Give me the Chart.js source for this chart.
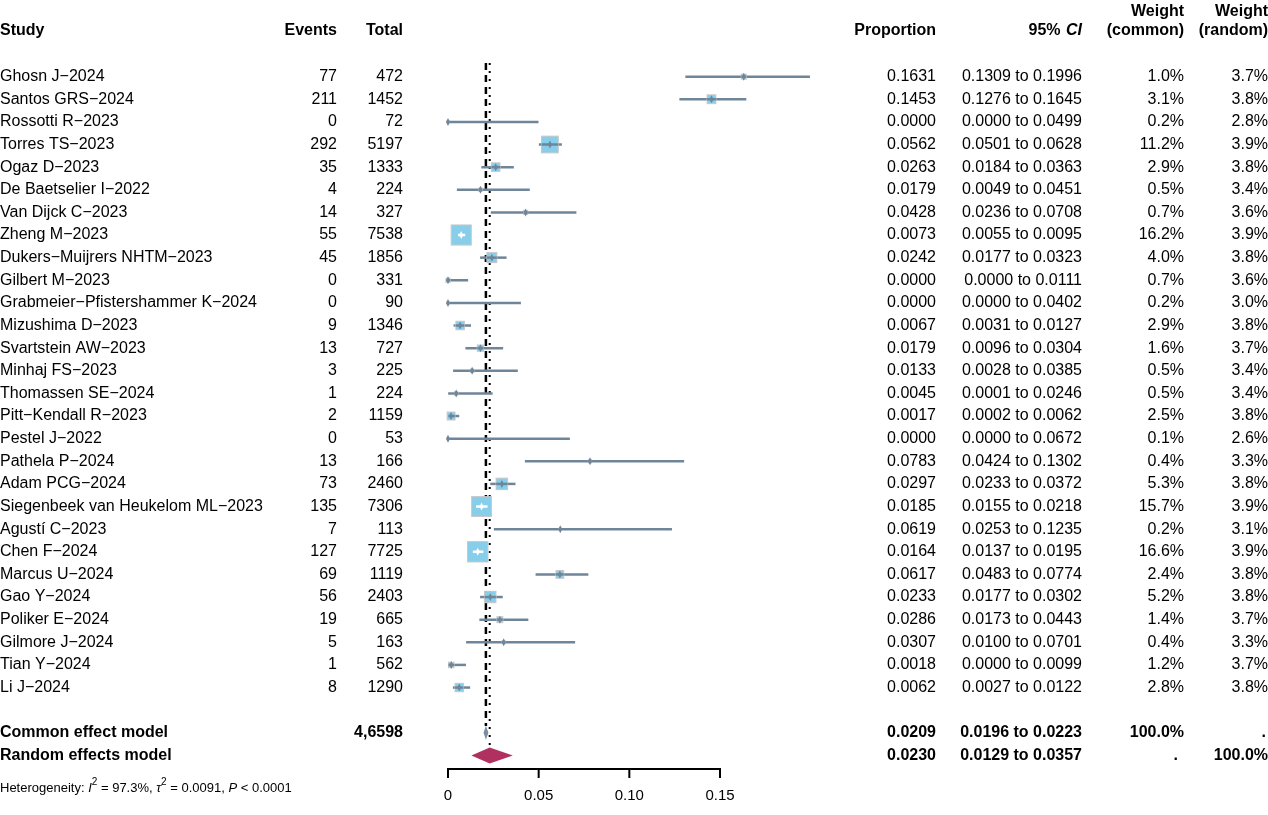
<!DOCTYPE html>
<html><head><meta charset="utf-8">
<script src="https://cdn.jsdelivr.net/npm/chart.js@4.4.1/dist/chart.umd.min.js"></script>
<style>html,body{margin:0;background:#fff}#c{display:block}</style>
</head><body>
<div style="width:1268px;height:815px"><canvas id="c"></canvas></div>
<script>
var studies = ['Ghosn J\u22122024','Santos GRS\u22122024','Rossotti R\u22122023','Torres TS\u22122023','Ogaz D\u22122023','De Baetselier I\u22122022','Van Dijck C\u22122023','Zheng M\u22122023','Dukers\u2212Muijrers NHTM\u22122023','Gilbert M\u22122023','Grabmeier\u2212Pfistershammer K\u22122024','Mizushima D\u22122023','Svartstein AW\u22122023','Minhaj FS\u22122023','Thomassen SE\u22122024','Pitt\u2212Kendall R\u22122023','Pestel J\u22122022','Pathela P\u22122024','Adam PCG\u22122024','Siegenbeek van Heukelom ML\u22122023','Agust\u00ed C\u22122023','Chen F\u22122024','Marcus U\u22122024','Gao Y\u22122024','Poliker E\u22122024','Gilmore J\u22122024','Tian Y\u22122024','Li J\u22122024'];
var events = [77,211,0,292,35,4,14,55,45,0,0,9,13,3,1,2,0,13,73,135,7,127,69,56,19,5,1,8];
var totals = [472,1452,72,5197,1333,224,327,7538,1856,331,90,1346,727,225,224,1159,53,166,2460,7306,113,7725,1119,2403,665,163,562,1290];
var props = [0.1631,0.1453,0,0.0562,0.0263,0.0179,0.0428,0.0073,0.0242,0,0,0.0067,0.0179,0.0133,0.0045,0.0017,0,0.0783,0.0297,0.0185,0.0619,0.0164,0.0617,0.0233,0.0286,0.0307,0.0018,0.0062];
var lower = [0.1309,0.1276,0,0.0501,0.0184,0.0049,0.0236,0.0055,0.0177,0,0,0.0031,0.0096,0.0028,0.0001,0.0002,0,0.0424,0.0233,0.0155,0.0253,0.0137,0.0483,0.0177,0.0173,0.0100,0,0.0027];
var upper = [0.1996,0.1645,0.0499,0.0628,0.0363,0.0451,0.0708,0.0095,0.0323,0.0111,0.0402,0.0127,0.0304,0.0385,0.0246,0.0062,0.0672,0.1302,0.0372,0.0218,0.1235,0.0195,0.0774,0.0302,0.0443,0.0701,0.0099,0.0122];
var wCommon = [1.0,3.1,0.2,11.2,2.9,0.5,0.7,16.2,4.0,0.7,0.2,2.9,1.6,0.5,0.5,2.5,0.1,0.4,5.3,15.7,0.2,16.6,2.4,5.2,1.4,0.4,1.2,2.8];
var wRandom = [3.7,3.8,2.8,3.9,3.8,3.4,3.6,3.9,3.8,3.6,3.0,3.8,3.7,3.4,3.4,3.8,2.6,3.3,3.8,3.9,3.1,3.9,3.8,3.8,3.7,3.3,3.7,3.8];
var common = {est: 0.0209, lo: 0.0196, hi: 0.0223};
var random = {est: 0.0230, lo: 0.0129, hi: 0.0357};
var xTicks = [0, 0.05, 0.10, 0.15];
var xTickLabels = ['0', '0.05', '0.10', '0.15'];

var COMMON_ROW = 29, RANDOM_ROW = 30;
var FONT = 'Arial, "Liberation Sans", sans-serif';
var lineCol = '#6f8599';

function fmt(v) { return v.toFixed(4); }

var forestPlugin = {
    id: 'forest',
    afterDatasetsDraw: function (chart) {
        var ctx = chart.ctx, xs = chart.scales.x, ys = chart.scales.y;
        var X = function (v) { return xs.getPixelForValue(v); };
        var Y = function (v) { return ys.getPixelForValue(v); };
        ctx.save();
        ctx.textBaseline = 'middle';

        // axis tick marks
        ctx.strokeStyle = '#000'; ctx.lineWidth = 2;
        xTicks.forEach(function (v) {
            ctx.beginPath(); ctx.moveTo(X(v), chart.chartArea.bottom); ctx.lineTo(X(v), chart.chartArea.bottom + 9); ctx.stroke();
        });

        // reference lines
        ctx.lineWidth = 2.5;
        ctx.setLineDash([7, 5]);
        ctx.beginPath(); ctx.moveTo(X(common.est), Y(-0.6)); ctx.lineTo(X(common.est), Y(COMMON_ROW - 0.3)); ctx.stroke();
        ctx.lineWidth = 2;
        ctx.setLineDash([2, 6]);
        ctx.beginPath(); ctx.moveTo(X(random.est), Y(-0.6)); ctx.lineTo(X(random.est), Y(RANDOM_ROW - 0.4)); ctx.stroke();
        ctx.setLineDash([]);

        // studies
        for (var i = 0; i < studies.length; i++) {
            var y = Y(i), xl = X(lower[i]), xh = X(upper[i]), xp = X(props[i]);
            ctx.strokeStyle = lineCol; ctx.lineWidth = 2.5;
            ctx.beginPath(); ctx.moveTo(xl, y); ctx.lineTo(xh, y); ctx.stroke();
            var s = 5 * Math.sqrt(wCommon[i]);
            ctx.fillStyle = '#87ceeb';
            ctx.fillRect(xp - s / 2, y - s / 2, s, s);
            ctx.strokeStyle = '#c8c8c8'; ctx.lineWidth = 1;
            ctx.strokeRect(xp - s / 2, y - s / 2, s, s);
            var inside = xl >= xp - s / 2 && xh <= xp + s / 2;
            ctx.strokeStyle = inside ? '#fff' : lineCol; ctx.lineWidth = 2.5;
            ctx.beginPath(); ctx.moveTo(Math.max(xl, xp - s / 2), y); ctx.lineTo(Math.min(xh, xp + s / 2), y); ctx.stroke();
            ctx.fillStyle = inside ? '#fff' : lineCol;
            ctx.beginPath(); ctx.moveTo(xp, y - 4); ctx.lineTo(xp + 2, y); ctx.lineTo(xp, y + 4); ctx.lineTo(xp - 2, y); ctx.closePath(); ctx.fill();
        }

        // diamonds
        function diamond(m, row, col, h) {
            var y = Y(row);
            ctx.fillStyle = col;
            ctx.beginPath();
            ctx.moveTo(X(m.lo), y); ctx.lineTo(X(m.est), y - h); ctx.lineTo(X(m.hi), y); ctx.lineTo(X(m.est), y + h);
            ctx.closePath(); ctx.fill();
        }
        diamond(common, COMMON_ROW, '#7b8fa1', 7);
        diamond(random, RANDOM_ROW, '#b0305f', 8);

        // text columns
        ctx.fillStyle = '#000';
        function txt(s, x, y, align, bold) {
            ctx.font = (bold ? 'bold ' : '') + '16px ' + FONT;
            ctx.textAlign = align;
            ctx.fillText(s, x, y);
        }
        var hy = 31;
        txt('Study', 0, hy, 'left', true);
        txt('Events', 337, hy, 'right', true);
        txt('Total', 403, hy, 'right', true);
        txt('Proportion', 936, hy, 'right', true);
        ctx.font = 'bold italic 16px ' + FONT; ctx.textAlign = 'right';
        var ciW = ctx.measureText('CI').width;
        ctx.fillText('CI', 1082, hy);
        ctx.font = 'bold 16px ' + FONT;
        ctx.fillText('95% ', 1082 - ciW - 1, hy);
        txt('Weight', 1184, 12, 'right', true);
        txt('(common)', 1184, hy, 'right', true);
        txt('Weight', 1268, 12, 'right', true);
        txt('(random)', 1268, hy, 'right', true);

        for (i = 0; i < studies.length; i++) {
            y = Y(i);
            txt(studies[i], 0, y, 'left');
            txt(String(events[i]), 337, y, 'right');
            txt(String(totals[i]), 403, y, 'right');
            txt(fmt(props[i]), 936, y, 'right');
            txt(fmt(lower[i]) + ' to ' + fmt(upper[i]), 1082, y, 'right');
            txt(wCommon[i].toFixed(1) + '%', 1184, y, 'right');
            txt(wRandom[i].toFixed(1) + '%', 1268, y, 'right');
        }
        y = Y(COMMON_ROW);
        txt('Common effect model', 0, y, 'left', true);
        txt('4,6598', 403, y, 'right', true);
        txt(fmt(common.est), 936, y, 'right', true);
        txt(fmt(common.lo) + ' to ' + fmt(common.hi), 1082, y, 'right', true);
        txt('100.0%', 1184, y, 'right', true);
        txt('.', 1266, y, 'right', true);
        y = Y(RANDOM_ROW);
        txt('Random effects model', 0, y, 'left', true);
        txt(fmt(random.est), 936, y, 'right', true);
        txt(fmt(random.lo) + ' to ' + fmt(random.hi), 1082, y, 'right', true);
        txt('.', 1178, y, 'right', true);
        txt('100.0%', 1268, y, 'right', true);

        // heterogeneity
        var parts = [['Heterogeneity: ', ''], ['I', 'italic '], ['2', 'sup'], [' = 97.3%, ', ''], ['\u03c4', 'italic '], ['2', 'sup'], [' = 0.0091, ', ''], ['P', 'italic '], [' < 0.0001', '']];
        var hx = 0, hy2 = 788;
        ctx.textAlign = 'left';
        parts.forEach(function (p) {
            if (p[1] === 'sup') { ctx.font = '10px ' + FONT; ctx.fillText(p[0], hx, hy2 - 6); }
            else { ctx.font = p[1] + '13px ' + FONT; ctx.fillText(p[0], hx, hy2); }
            hx += ctx.measureText(p[0]).width;
        });
        ctx.restore();
    }
};

new Chart(document.getElementById('c'), {
    type: 'scatter',
    data: { datasets: [{ data: props.map(function (p, i) { return { x: p, y: i }; }), pointRadius: 0 }] },
    plugins: [forestPlugin],
    options: {
        responsive: true, maintainAspectRatio: false, animation: false,
        layout: { padding: { left: 448, right: 548, top: 54, bottom: 0 } },
        plugins: { legend: { display: false }, tooltip: { enabled: false } },
        scales: {
            x: {
                type: 'linear', min: 0, max: 0.15,
                afterBuildTicks: function (s) { s.ticks = xTicks.map(function (v) { return { value: v }; }); },
                ticks: { color: '#000', font: { size: 15, family: FONT }, padding: 10,
                    callback: function (v) { return xTickLabels[xTicks.indexOf(v)]; } },
                grid: { display: false },
                border: { display: true, color: '#000', width: 2 }
            },
            y: {
                type: 'linear', reverse: true, min: -1, max: 30.6, display: false
            }
        }
    }
});
</script>
</body></html>
